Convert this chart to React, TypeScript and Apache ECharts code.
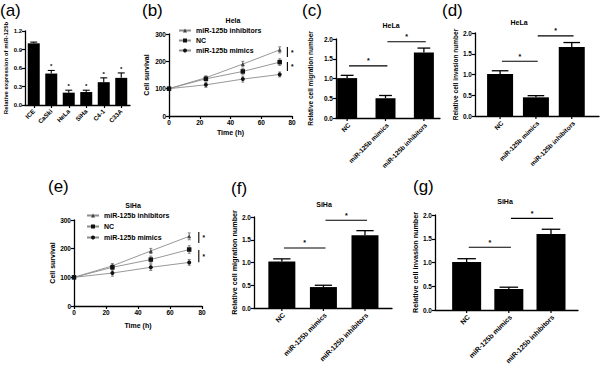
import React, { useEffect, useRef } from "react";
import * as echarts from "echarts";

const FONT = "Liberation Sans, Arial, Helvetica, sans-serif";

// ---------- (a) miR-125b expression ----------
const cellLines = ["ICE", "CaSki", "HeLa", "SiHa", "C4-1", "C33A"];
const miR125bExpr = [1.0, 0.51, 0.2, 0.21, 0.37, 0.44];
const miR125bExprErr = [0.02, 0.05, 0.04, 0.03, 0.07, 0.08];
const miR125bExprSig = [0, 1, 1, 1, 1, 1];
const exprTicks = [0, 0.3, 0.6, 0.9, 1.2];

// ---------- (b), (e) cell survival ----------
const timePoints = [0, 24, 48, 72];
const survivalTicks = [0, 100, 200, 300];
const timeTicks = [0, 20, 40, 60, 80];
const seriesNames = ["miR-125b inhibitors", "NC", "miR-125b mimics"];
const helaInhibitors = [100, 140, 190, 242];
const helaNC = [100, 136, 163, 197];
const helaMimics = [100, 114, 135, 152];
const helaInhibitorsErr = [4, 7, 10, 11];
const helaNCErr = [4, 8, 10, 12];
const helaMimicsErr = [4, 9, 11, 9];
const sihaInhibitors = [100, 140, 192, 243];
const sihaNC = [100, 135, 162, 197];
const sihaMimics = [100, 115, 135, 152];
const sihaInhibitorsErr = [4, 8, 9, 12];
const sihaNCErr = [4, 9, 12, 13];
const sihaMimicsErr = [4, 11, 11, 10];
// significance brackets: [time, upper, lower]
const helaBrackets = [[77, 252, 216], [77, 198, 165]];
const sihaBrackets = [[78, 258, 220], [78, 195, 153]];

// ---------- (c), (d), (f), (g) migration / invasion ----------
const groups = ["NC", "miR-125b mimics", "miR-125b inhibitors"];
const relTicks = [0, 0.5, 1.0, 1.5, 2.0];
const helaMigration = [1.01, 0.5, 1.66];
const helaMigrationErr = [0.07, 0.07, 0.11];
const helaInvasion = [1.01, 0.45, 1.66];
const helaInvasionErr = [0.08, 0.04, 0.11];
const sihaMigration = [1.02, 0.46, 1.6];
const sihaMigrationErr = [0.06, 0.04, 0.1];
const sihaInvasion = [1.01, 0.44, 1.6];
const sihaInvasionErr = [0.07, 0.04, 0.1];
// significance lines: [from group, to group, level]
const sigPairs = [[0, 1, 1.32], [1, 2, 1.93]];

function buildOption() {
  const grids: any[] = [];
  const xAxes: any[] = [];
  const yAxes: any[] = [];
  const series: any[] = [];
  const graphics: any[] = [];

  const axisLine = { show: true, onZero: false, lineStyle: { color: "#000", width: 1.3 } };
  const axisTick = { show: true, length: 3, lineStyle: { color: "#000", width: 1.2 } };
  const tickLabel = (size: number) => ({
    fontSize: size, fontWeight: "bold", color: "#000", fontFamily: FONT, margin: 3,
  });
  const nameStyle = (size: number) => ({
    fontSize: size, fontWeight: "bold", color: "#000", fontFamily: FONT,
  });
  const txt = (text: string, x: number, y: number, size: number, bold: boolean, align = "center") => ({
    type: "text", x, y, silent: true,
    style: {
      text, font: `${bold ? "bold " : ""}${size}px ${FONT}`,
      fill: "#000", align, verticalAlign: "middle",
    },
  });

  // ===== (a) =====
  grids.push({ left: 25, top: 31, width: 105, height: 74 });
  xAxes.push({
    type: "category", gridIndex: 0, data: cellLines,
    axisLine, axisTick: { ...axisTick, alignWithLabel: true },
    axisLabel: { ...tickLabel(6.3), rotate: 45, interval: 0, margin: 5 }, splitLine: { show: false },
  });
  yAxes.push({
    type: "value", gridIndex: 0, min: exprTicks[0], max: exprTicks[exprTicks.length - 1],
    interval: exprTicks[1] - exprTicks[0],
    axisLine, axisTick, axisLabel: { ...tickLabel(6), formatter: (v: number) => v.toFixed(1) },
    splitLine: { show: false },
    name: "Relative expression of miR-125b", nameLocation: "middle", nameGap: 16,
    nameTextStyle: nameStyle(6),
  });
  series.push({
    type: "bar", xAxisIndex: 0, yAxisIndex: 0, data: miR125bExpr, barWidth: 12,
    itemStyle: { color: "#000" },
  });
  series.push({
    type: "custom", xAxisIndex: 0, yAxisIndex: 0,
    data: cellLines.map((_, i) => [i, miR125bExpr[i], miR125bExprErr[i], miR125bExprSig[i]]),
    renderItem: (params: any, api: any) => {
      const x = api.value(0), v = api.value(1), e = api.value(2), s = api.value(3);
      const top = api.coord([x, v + e]);
      const base = api.coord([x, v]);
      const ch: any[] = [
        { type: "line", shape: { x1: top[0], y1: top[1], x2: base[0], y2: base[1] }, style: { stroke: "#000", lineWidth: 1.1 } },
        { type: "line", shape: { x1: top[0] - 3.5, y1: top[1], x2: top[0] + 3.5, y2: top[1] }, style: { stroke: "#000", lineWidth: 1.1 } },
      ];
      if (s) ch.push({ type: "text", x: top[0], y: top[1] - 1, style: { text: "*", font: `bold 6px ${FONT}`, fill: "#000", align: "center", verticalAlign: "bottom" } });
      return { type: "group", children: ch };
    },
    z: 5,
  });
  graphics.push(txt("(a)", 0, 10, 17, false, "left"));

  // ===== line panels =====
  const addLinePanel = (
    gi: number, grid: any, vals: number[][], errs: number[][], brackets: number[][],
    nameGapX: number, nameGapY: number,
  ) => {
    grids.push(grid);
    xAxes.push({
      type: "value", gridIndex: gi, min: timeTicks[0], max: timeTicks[timeTicks.length - 1],
      interval: timeTicks[1] - timeTicks[0],
      axisLine, axisTick, axisLabel: tickLabel(6.5), splitLine: { show: false },
      name: "Time (h)", nameLocation: "middle", nameGap: nameGapX, nameTextStyle: nameStyle(7),
    });
    yAxes.push({
      type: "value", gridIndex: gi, min: survivalTicks[0], max: survivalTicks[survivalTicks.length - 1],
      interval: survivalTicks[1] - survivalTicks[0],
      axisLine, axisTick, axisLabel: tickLabel(6.5), splitLine: { show: false },
      name: "Cell survival", nameLocation: "middle", nameGap: nameGapY, nameTextStyle: nameStyle(7),
    });
    const symbols = ["triangle", "rect", "circle"];
    const sizes = [4, 4.5, 4];
    vals.forEach((v, k) => {
      series.push({
        type: "line", name: seriesNames[k], xAxisIndex: gi, yAxisIndex: gi,
        data: timePoints.map((t, j) => [t, v[j]]),
        symbol: symbols[k], symbolSize: sizes[k], showSymbol: true,
        lineStyle: { color: "#8c8c8c", width: 0.9 },
        itemStyle: { color: k === 0 ? "#444" : "#111" },
        z: 4,
      });
      series.push({
        type: "custom", xAxisIndex: gi, yAxisIndex: gi,
        data: timePoints.map((t, j) => [t, v[j], errs[k][j]]),
        renderItem: (params: any, api: any) => {
          const x = api.value(0), y = api.value(1), e = api.value(2);
          const hi = api.coord([x, y + e]);
          const lo = api.coord([x, y - e]);
          const st = { stroke: "#666", lineWidth: 0.8 };
          return {
            type: "group", children: [
              { type: "line", shape: { x1: hi[0], y1: hi[1], x2: lo[0], y2: lo[1] }, style: st },
              { type: "line", shape: { x1: hi[0] - 1.5, y1: hi[1], x2: hi[0] + 1.5, y2: hi[1] }, style: st },
              { type: "line", shape: { x1: lo[0] - 1.5, y1: lo[1], x2: lo[0] + 1.5, y2: lo[1] }, style: st },
            ],
          };
        },
        z: 3,
      });
    });
    series.push({
      type: "custom", xAxisIndex: gi, yAxisIndex: gi, data: brackets,
      renderItem: (params: any, api: any) => {
        const x = api.value(0);
        const p1 = api.coord([x, api.value(1)]);
        const p2 = api.coord([x, api.value(2)]);
        return {
          type: "group", children: [
            { type: "line", shape: { x1: p1[0], y1: p1[1], x2: p2[0], y2: p2[1] }, style: { stroke: "#000", lineWidth: 1.1 } },
            { type: "text", x: p1[0] + 5, y: (p1[1] + p2[1]) / 2, style: { text: "*", font: `bold 6.5px ${FONT}`, fill: "#000", align: "center", verticalAlign: "middle" } },
          ],
        };
      },
      z: 5,
    });
  };

  // ===== bar panels =====
  const addBarPanel = (
    gi: number, grid: any, xr: number[], barW: number, vals: number[], errs: number[],
    yName: string, nameGapY: number, nameSize: number, labelSize: number,
  ) => {
    grids.push(grid);
    xAxes.push({
      type: "value", gridIndex: gi, min: xr[0], max: xr[1],
      axisLine, axisTick: { show: false }, axisLabel: { show: false }, splitLine: { show: false },
    });
    yAxes.push({
      type: "value", gridIndex: gi, min: relTicks[0], max: relTicks[relTicks.length - 1],
      interval: relTicks[1] - relTicks[0],
      axisLine, axisTick, axisLabel: { ...tickLabel(6.5), formatter: (v: number) => v.toFixed(1) },
      splitLine: { show: false },
      name: yName, nameLocation: "middle", nameGap: nameGapY, nameTextStyle: nameStyle(nameSize),
    });
    series.push({
      type: "bar", xAxisIndex: gi, yAxisIndex: gi,
      data: vals.map((v, i) => [i, v]), barWidth: barW, itemStyle: { color: "#000" },
    });
    series.push({
      type: "custom", xAxisIndex: gi, yAxisIndex: gi,
      data: vals.map((v, i) => [i, v, errs[i]]),
      renderItem: (params: any, api: any) => {
        const x = api.value(0), v = api.value(1), e = api.value(2);
        const top = api.coord([x, v + e]);
        const base = api.coord([x, v]);
        const hw = barW * 0.32;
        const st = { stroke: "#000", lineWidth: 1.3 };
        return {
          type: "group", children: [
            { type: "line", shape: { x1: top[0], y1: top[1], x2: base[0], y2: base[1] }, style: st },
            { type: "line", shape: { x1: top[0] - hw, y1: top[1], x2: top[0] + hw, y2: top[1] }, style: st },
          ],
        };
      },
      z: 5,
    });
    // category ticks and labels
    series.push({
      type: "custom", xAxisIndex: gi, yAxisIndex: gi,
      data: groups.map((_, i) => [i, 0]),
      renderItem: (params: any, api: any) => {
        const i = api.value(0);
        const p = api.coord([i, 0]);
        return {
          type: "group", children: [
            { type: "line", shape: { x1: p[0], y1: p[1], x2: p[0], y2: p[1] + 3 }, style: { stroke: "#000", lineWidth: 1.2 } },
            { type: "text", x: p[0] + 2, y: p[1] + 6, rotation: Math.PI / 4, style: { text: groups[i], font: `bold ${labelSize}px ${FONT}`, fill: "#000", align: "right", verticalAlign: "middle" } },
          ],
        };
      },
      z: 5,
    });
    // significance lines
    series.push({
      type: "custom", xAxisIndex: gi, yAxisIndex: gi,
      data: sigPairs.map(([a, b, lv]) => [a + 0.05, b + 0.05, lv]),
      renderItem: (params: any, api: any) => {
        const p1 = api.coord([api.value(0), api.value(2)]);
        const p2 = api.coord([api.value(1), api.value(2)]);
        return {
          type: "group", children: [
            { type: "line", shape: { x1: p1[0], y1: p1[1], x2: p2[0], y2: p2[1] }, style: { stroke: "#000", lineWidth: 1.1 } },
            { type: "text", x: (p1[0] + p2[0]) / 2, y: p1[1] - 1.5, style: { text: "*", font: `bold 7px ${FONT}`, fill: "#000", align: "center", verticalAlign: "bottom" } },
          ],
        };
      },
      z: 5,
    });
  };

  // (b)
  addLinePanel(1, { left: 169, top: 34, width: 123, height: 82 },
    [helaInhibitors, helaNC, helaMimics], [helaInhibitorsErr, helaNCErr, helaMimicsErr],
    helaBrackets, 13, 19);
  graphics.push(txt("(b)", 142, 10, 17, false, "left"));
  graphics.push(txt("Hela", 233, 20, 7, true));

  // (c)
  addBarPanel(2, { left: 336, top: 39, width: 104, height: 79 }, [-0.29, 2.42], 20,
    helaMigration, helaMigrationErr, "Relative cell migration number", 22, 6.5, 6.5);
  graphics.push(txt("(c)", 302, 10, 17, false, "left"));
  graphics.push(txt("HeLa", 391, 25, 7, true));

  // (d)
  addBarPanel(3, { left: 475, top: 33, width: 124, height: 83 }, [-0.7, 2.76], 26,
    helaInvasion, helaInvasionErr, "Relative cell invasion number", 11, 6.5, 6.5);
  graphics.push(txt("(d)", 442, 10, 17, false, "left"));
  graphics.push(txt("HeLa", 519, 22, 7, true));

  // (e)
  addLinePanel(4, { left: 74, top: 220, width: 128, height: 86 },
    [sihaInhibitors, sihaNC, sihaMimics], [sihaInhibitorsErr, sihaNCErr, sihaMimicsErr],
    sihaBrackets, 16, 17);
  graphics.push(txt("(e)", 48, 186, 17, false, "left"));
  graphics.push(txt("SiHa", 133, 205, 7, true));

  // (f)
  addBarPanel(5, { left: 254, top: 217, width: 138, height: 91 }, [-0.67, 2.65], 27,
    sihaMigration, sihaMigrationErr, "Relative cell migration number", 13, 7.2, 7);
  graphics.push(txt("(f)", 231, 188, 17, false, "left"));
  graphics.push(txt("SiHa", 324, 204, 7, true));

  // (g)
  addBarPanel(6, { left: 435, top: 215, width: 143, height: 95 }, [-0.75, 2.64], 29,
    sihaInvasion, sihaInvasionErr, "Relative cell invasion number", 13, 7.2, 7);
  graphics.push(txt("(g)", 413, 186, 17, false, "left"));
  graphics.push(txt("SiHa", 505, 201, 7, true));

  const legendBase = {
    orient: "vertical", itemWidth: 12, itemHeight: 5, padding: 0,
    textStyle: { fontSize: 7, fontWeight: "bold", fontFamily: FONT, color: "#000" },
    data: seriesNames, selectedMode: false,
  };

  return {
    animation: false,
    backgroundColor: "#fff",
    textStyle: { fontFamily: FONT },
    legend: [
      { ...legendBase, left: 178, top: 27, itemGap: 3 },
      { ...legendBase, left: 86, top: 212, itemGap: 4 },
    ],
    grid: grids.map((g) => ({ ...g, containLabel: false, outerBoundsMode: "none" })),
    xAxis: xAxes,
    yAxis: yAxes,
    series,
    graphic: graphics,
  };
}

export default function App() {
  const ref = useRef<HTMLDivElement>(null);
  useEffect(() => {
    if (!ref.current) return;
    const chart = echarts.init(ref.current, null, { renderer: "svg" });
    chart.setOption(buildOption() as any);
    return () => chart.dispose();
  }, []);
  return (
    <div
      ref={ref}
      style={{ position: "fixed", left: 0, top: 0, width: 600, height: 365, background: "#fff" }}
    />
  );
}
